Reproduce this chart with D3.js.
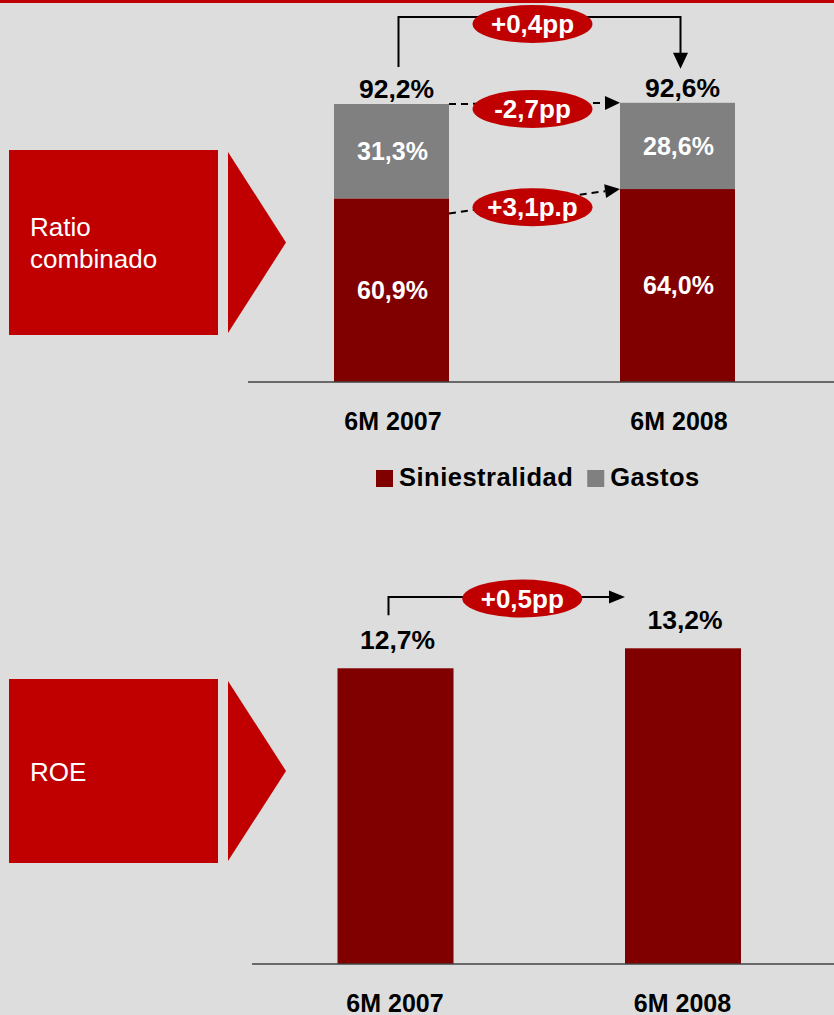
<!DOCTYPE html>
<html><head><meta charset="utf-8">
<script src="https://cdn.jsdelivr.net/npm/d3@7"></script>
<style>
html,body{margin:0;padding:0;background:#DDDDDD;}
svg{display:block;}
text{font-family:"Liberation Sans",Arial,Helvetica,sans-serif;}
</style>
</head><body>
<svg id="c" width="834" height="1015"></svg>
<script>
// ---- data ----
const categories = ["6M 2007", "6M 2008"];
const seriesNames = ["Siniestralidad", "Gastos"];
const siniestralidad = [60.9, 64.0];
const gastos = [31.3, 28.6];
const ratioCombinado = [92.2, 92.6];
const roe = [12.7, 13.2];
const ratioChange = "+0,4pp";
const gastosChange = "-2,7pp";
const siniestralidadChange = "+3,1p.p";
const roeChange = "+0,5pp";
const panelTitles = [["Ratio", "combinado"], ["ROE"]];

// ---- style ----
const RED = "#C00000", DARK = "#800000", GRAY = "#808080", BG = "#DDDDDD";
const locale = d3.formatLocale({decimal: ",", thousands: ".", grouping: [3], currency: ["", "€"]});
const fmt = v => locale.format(".1f")(v) + "%";

const svg = d3.select("#c");
svg.append("rect").attr("width", 834).attr("height", 1015).attr("fill", BG);
svg.append("rect").attr("width", 834).attr("height", 3).attr("fill", RED);

// ---- left panels ----
function panel(y0, h, lines) {
  const g = svg.append("g");
  g.append("rect").attr("x", 9).attr("y", y0).attr("width", 209).attr("height", h).attr("fill", RED);
  g.append("path")
    .attr("d", `M228,${y0 + 2}L286,${y0 + h / 2}L228,${y0 + h - 2}Z`)
    .attr("fill", RED);
  const lh = 31.7;
  const firstBase = y0 + h / 2 + 9.5 - (lines.length - 1) * lh / 2;
  g.selectAll("text").data(lines).join("text")
    .attr("x", 30).attr("y", (d, i) => firstBase + i * lh)
    .attr("fill", "#fff").attr("font-size", 26).text(d => d);
}
panel(150, 185, panelTitles[0]);
panel(679, 184, panelTitles[1]);

// ---- helpers ----
function arrowHead(g, tx, ty, fx, fy, L, W) {
  const a = Math.atan2(ty - fy, tx - fx);
  const bx = tx - L * Math.cos(a), by = ty - L * Math.sin(a);
  const px = -Math.sin(a) * W, py = Math.cos(a) * W;
  g.append("path").attr("d", `M${tx},${ty}L${bx + px},${by + py}L${bx - px},${by - py}Z`).attr("fill", "#000");
  return [bx, by];
}
function bubble(g, cx, cy, label) {
  g.append("ellipse").attr("cx", cx).attr("cy", cy).attr("rx", 60).attr("ry", 19).attr("fill", RED);
  g.append("text").attr("x", cx).attr("y", cy + 9).attr("text-anchor", "middle")
    .attr("fill", "#fff").attr("font-weight", "bold").attr("font-size", 26).text(label);
}

// ---- top chart: stacked bars ----
const xTop = d3.scalePoint().domain(categories).range([391.5, 677.5]);
const barW = 115;
const yTop = d3.scaleLinear().domain([0, 100]).range([382, 80.5]);
const color = d3.scaleOrdinal().domain(seriesNames).range([DARK, GRAY]);

const rows = categories.map((c, i) => ({cat: c, Siniestralidad: siniestralidad[i], Gastos: gastos[i]}));
const stacked = d3.stack().keys(seriesNames)(rows);

const topG = svg.append("g");
const layers = topG.selectAll("g.layer").data(stacked).join("g").attr("class", "layer").attr("fill", d => color(d.key));
layers.selectAll("rect").data(d => d).join("rect")
  .attr("x", d => xTop(d.data.cat) - barW / 2)
  .attr("y", d => yTop(d[1]))
  .attr("width", barW)
  .attr("height", d => yTop(d[0]) - yTop(d[1]));
layers.selectAll("text").data(d => d).join("text")
  .attr("x", d => xTop(d.data.cat) + 1)
  .attr("y", d => (yTop(d[0]) + yTop(d[1])) / 2)
  .attr("dy", "0.35em")
  .attr("text-anchor", "middle").attr("fill", "#fff")
  .attr("font-weight", "bold").attr("font-size", 25)
  .text(d => fmt(d[1] - d[0]));

// axis
topG.append("line").attr("x1", 248).attr("x2", 834).attr("y1", yTop(0)).attr("y2", yTop(0))
  .attr("stroke", "#404040").attr("stroke-width", 1.5);
const axTop = topG.append("g").attr("transform", `translate(0,${yTop(0)})`)
  .call(d3.axisBottom(xTop).tickSize(0).tickSizeOuter(0));
axTop.select(".domain").remove();
axTop.selectAll("text").attr("y", 48).attr("dy", null).attr("x", 1)
  .attr("font-family", null).attr("font-size", 25).attr("font-weight", "bold").attr("fill", "#000");

// totals
const shift = 5;
const totY = i => yTop(ratioCombinado[i]) - 6;
topG.selectAll("text.total").data(ratioCombinado).join("text").attr("class", "total")
  .attr("x", (d, i) => xTop(categories[i]) + shift)
  .attr("y", (d, i) => totY(i))
  .attr("text-anchor", "middle").attr("font-weight", "bold").attr("font-size", 26.5).attr("fill", "#000")
  .text(d => fmt(d));

// bracket +0,4pp
const ann = svg.append("g");
const bx1 = xTop(categories[0]) + shift + 2, bx2 = xTop(categories[1]) + shift - 2;
const bTop = 17, tipY = totY(1) - 28;
ann.append("path").attr("d", `M${bx1},${totY(0) - 31}V${bTop}H${bx2}V${tipY - 15}`)
  .attr("fill", "none").attr("stroke", "#000").attr("stroke-width", 2);
arrowHead(ann, bx2, tipY, bx2, bTop, 16, 7.5);
const midX = (xTop(categories[0]) + xTop(categories[1])) / 2 - 2;
bubble(ann, midX, 24, ratioChange);

// dashed arrows
function dashed(x1, y1, x2, y2, label, dyb) {
  const g = svg.append("g");
  const [bx, by] = arrowHead(g, x2, y2, x1, y1, 15, 7);
  g.insert("line", "path").attr("x1", x1).attr("y1", y1).attr("x2", bx).attr("y2", by)
    .attr("stroke", "#000").attr("stroke-width", 2).attr("stroke-dasharray", "7,5");
  bubble(g, midX, (y1 + y2) / 2 + dyb, label);
}
const r0 = xTop(categories[0]) + barW / 2, l1 = xTop(categories[1]) - barW / 2;
dashed(r0, yTop(ratioCombinado[0]), l1, yTop(ratioCombinado[1]), gastosChange, 5.5);
dashed(r0, yTop(siniestralidad[0]) + 15, l1, yTop(siniestralidad[1]), siniestralidadChange, 6);

// legend
const leg = svg.append("g").attr("transform", "translate(376,470)");
let lx = 0;
seriesNames.forEach(name => {
  leg.append("rect").attr("x", lx).attr("y", 0).attr("width", 17).attr("height", 17).attr("fill", color(name));
  const t = leg.append("text").attr("x", lx + 23).attr("y", 15.5)
    .attr("font-weight", "bold").attr("font-size", 25.5).attr("letter-spacing", 0.5)
    .attr("fill", "#000").text(name);
  lx += 23 + t.node().getComputedTextLength() + 14;
});

// ---- bottom chart: ROE ----
const xRoe = d3.scalePoint().domain(categories).range([395.5, 683]);
const barW2 = 116;
const roeAxisMin = 5.3;
const yRoe = d3.scaleLinear().domain([roeAxisMin, 13.2]).range([964, 648.3]);
const bot = svg.append("g");
bot.selectAll("rect").data(roe).join("rect")
  .attr("x", (d, i) => xRoe(categories[i]) - barW2 / 2)
  .attr("y", d => yRoe(d))
  .attr("width", barW2)
  .attr("height", d => yRoe(roeAxisMin) - yRoe(d))
  .attr("fill", DARK);
bot.selectAll("text.val").data(roe).join("text").attr("class", "val")
  .attr("x", (d, i) => xRoe(categories[i]) + 2)
  .attr("y", d => yRoe(d) - 19)
  .attr("text-anchor", "middle").attr("font-weight", "bold").attr("font-size", 26.5).attr("fill", "#000")
  .text(d => fmt(d));
bot.append("line").attr("x1", 252).attr("x2", 834).attr("y1", yRoe(roeAxisMin)).attr("y2", yRoe(roeAxisMin))
  .attr("stroke", "#404040").attr("stroke-width", 1.5);
const axBot = bot.append("g").attr("transform", `translate(0,${yRoe(roeAxisMin)})`)
  .call(d3.axisBottom(xRoe).tickSize(0).tickSizeOuter(0));
axBot.select(".domain").remove();
axBot.selectAll("text").attr("y", 47.5).attr("dy", null).attr("x", -1)
  .attr("font-family", null).attr("font-size", 25).attr("font-weight", "bold").attr("fill", "#000");

// bracket +0,5pp
const rx1 = xRoe(categories[0]) - 7;
const rTip = xRoe(categories[1]) - barW2 / 2;
const rY = 597;
const rg = svg.append("g");
const [rbx] = arrowHead(rg, rTip, rY, rx1, rY, 16, 6.5);
rg.insert("path", "path").attr("d", `M${rx1},${yRoe(roe[0]) - 19 - 34}V${rY}H${rbx}`)
  .attr("fill", "none").attr("stroke", "#000").attr("stroke-width", 2);
bubble(rg, (rx1 + rTip) / 2 + 15.5, 598.5, roeChange);
</script>
</body></html>
